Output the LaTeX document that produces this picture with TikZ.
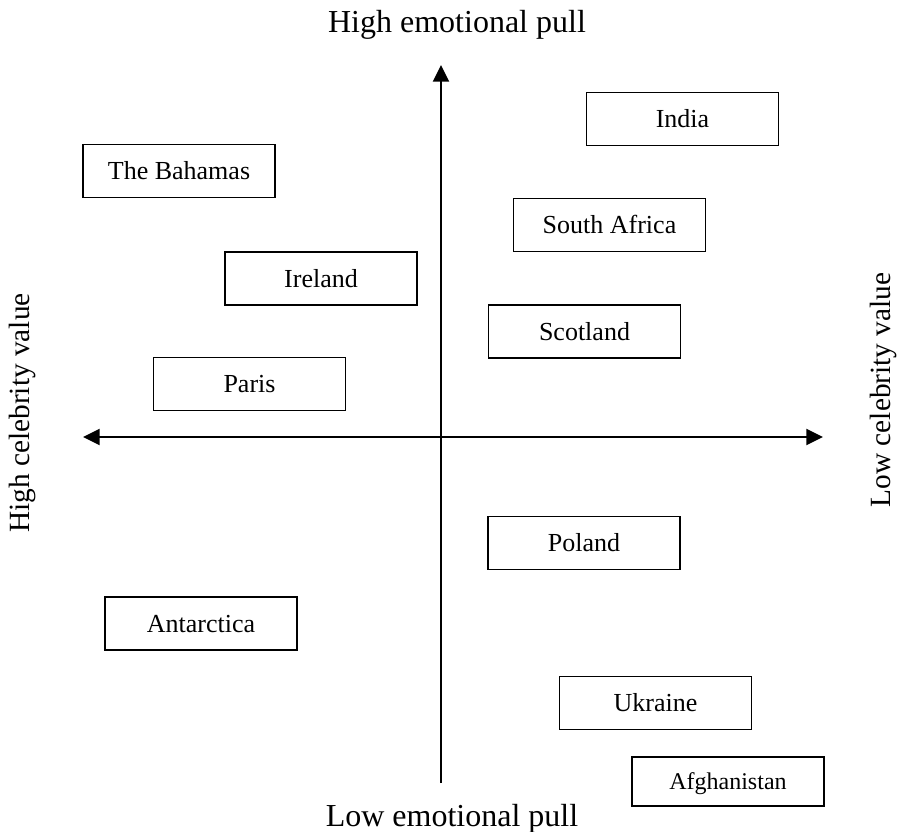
\documentclass[tikz,border=0pt]{standalone}
\usepackage{fontspec}
\setmainfont{Liberation Serif}
\usetikzlibrary{arrows.meta}
\begin{document}
\begin{tikzpicture}[x=0.75pt,y=-0.75pt,
  place/.style={draw=black,line width=1.4pt,minimum width=192*0.75pt,minimum height=53*0.75pt,
    inner sep=0pt,font=\fontsize{19.5}{22}\selectfont,text height=12.9pt,text depth=0pt},
  axis/.style={line width=1.5pt,-{Triangle[length=12.5pt,width=12pt]}},
  axistitle/.style={font=\fontsize{24}{28}\selectfont,anchor=base,inner sep=0pt},
  sidetitle/.style={font=\fontsize{22}{26}\selectfont,rotate=90,inner sep=0pt}]
  \useasboundingbox (0,0) rectangle (901,832);

  % axes
  \coordinate (vbottom) at (441,783);
  \coordinate (vtop) at (441,65);
  \coordinate (hleft) at (83,437);
  \coordinate (hright) at (823,437);
  \draw[axis] (vbottom) -- (vtop);
  \draw[axis,{Triangle[length=12.5pt,width=12pt]}-{Triangle[length=12.5pt,width=12pt]}] (hleft) -- (hright);

  % axis titles
  \node[axistitle] (high) at (457,32) {High emotional pull};
  \node[axistitle] (low) at (452,826) {Low emotional pull};
  \node[sidetitle] (hcel) at (22,413) {High celebrity value};
  \node[sidetitle] (lcel) at (883,390) {Low celebrity value};

  % destinations
  \node[place] (india) at (682.5,119) {India};
  \node[place] (bahamas) at (179,171) {The Bahamas};
  \node[place] (safrica) at (609.5,225) {South Africa};
  \node[place] (ireland) at (321,278.5) {Ireland};
  \node[place] (scotland) at (584.5,331.5) {Scotland};
  \node[place] (paris) at (249.5,384) {Paris};
  \node[place] (poland) at (584,543) {Poland};
  \node[place] (antarctica) at (201,623.5) {Antarctica};
  \node[place] (ukraine) at (655.5,703) {Ukraine};
  \node[place,minimum height=49*0.75pt,font=\fontsize{18}{21}\selectfont,text height=11.9pt] (afghanistan) at (728,781.5) {Afghanistan};
\end{tikzpicture}
\end{document}
